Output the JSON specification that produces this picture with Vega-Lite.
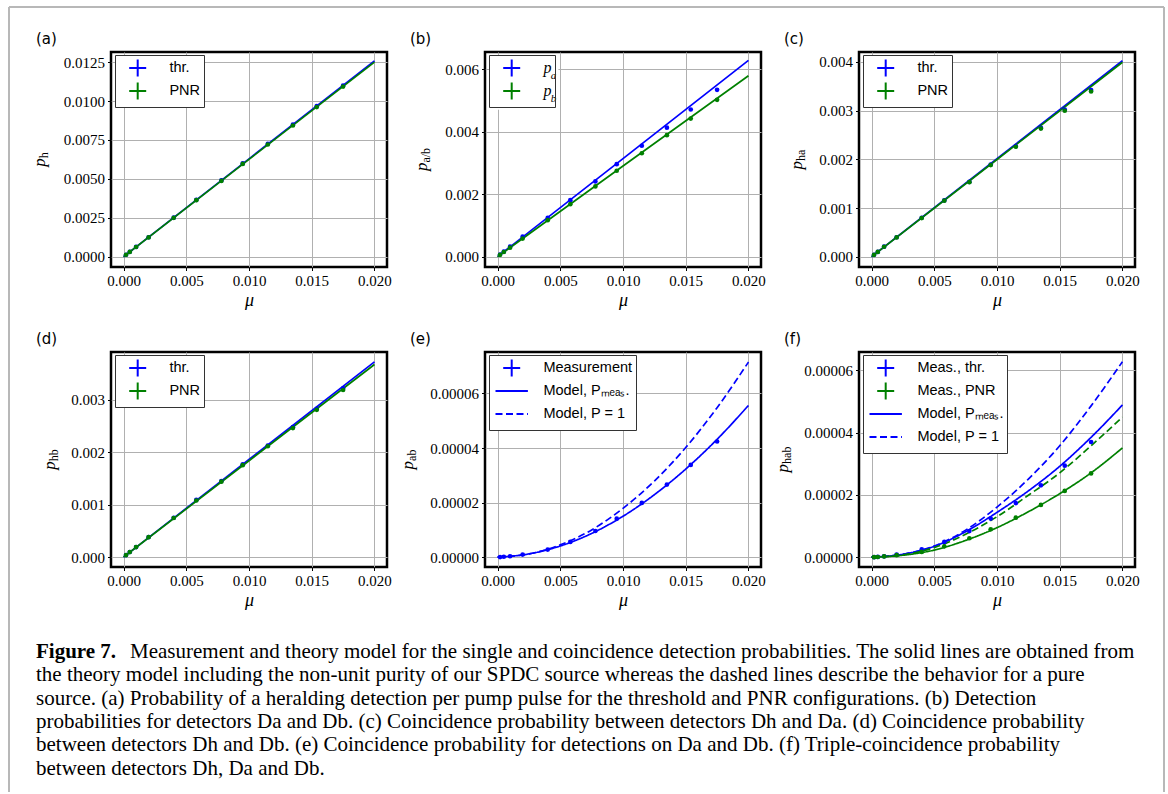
{
"$schema": "https://vega.github.io/schema/vega-lite/v6.json",
"background": "white",
"padding": {"left": 7, "top": 6, "right": 0, "bottom": 0},
"config": {
  "font": "Liberation Serif",
  "view": {"stroke": "black", "strokeWidth": 2.5},
  "axis": {"grid": true, "gridColor": "#b0b0b0", "gridWidth": 1, "domain": false, "ticks": true, "tickColor": "black", "tickSize": 3.5, "tickWidth": 1, "labelFont": "Liberation Serif", "labelFontSize": 15, "labelColor": "black", "labelPadding": 3, "labelFlush": false, "labelOverlap": false, "titleFont": "Liberation Serif", "titleFontStyle": "italic", "titleFontWeight": "normal", "titleFontSize": 18, "titleColor": "black", "titlePadding": 3},
  "legend": {"orient": "none", "legendX": 4, "legendY": 3, "padding": 3, "fillColor": "white", "strokeColor": "#333333", "cornerRadius": 0, "labelFont": "Liberation Sans", "labelFontSize": 14.5, "labelColor": "black", "labelOffset": 21.7, "symbolOffset": 9.7, "symbolSize": 324, "symbolStrokeWidth": 2, "rowPadding": -3.3, "labelLimit": 400, "symbolFillColor": "transparent"},
  "title": {"anchor": "start", "frame": "group", "dx": -75, "offset": 5, "font": "DejaVu Sans", "fontSize": 15, "fontWeight": "normal", "color": "black"}
},
"datasets": {
  "a": [
    {"k":"pt","det":"thr.","mu":0.0002,"p":0.000126},{"k":"pt","det":"thr.","mu":0.0005,"p":0.000314},{"k":"pt","det":"thr.","mu":0.001,"p":0.000628},{"k":"pt","det":"thr.","mu":0.002,"p":0.00125},{"k":"pt","det":"thr.","mu":0.004,"p":0.00251},{"k":"pt","det":"thr.","mu":0.0058,"p":0.00365},{"k":"pt","det":"thr.","mu":0.0078,"p":0.0049},{"k":"pt","det":"thr.","mu":0.0095,"p":0.00599},{"k":"pt","det":"thr.","mu":0.0115,"p":0.00725},{"k":"pt","det":"thr.","mu":0.0135,"p":0.00848},{"k":"pt","det":"thr.","mu":0.0154,"p":0.00967},{"k":"pt","det":"thr.","mu":0.0175,"p":0.01099},
    {"k":"pt","det":"PNR","mu":0.0002,"p":0.000125},{"k":"pt","det":"PNR","mu":0.0005,"p":0.00031},{"k":"pt","det":"PNR","mu":0.001,"p":0.000625},{"k":"pt","det":"PNR","mu":0.002,"p":0.00124},{"k":"pt","det":"PNR","mu":0.004,"p":0.0025},{"k":"pt","det":"PNR","mu":0.0058,"p":0.00363},{"k":"pt","det":"PNR","mu":0.0078,"p":0.00487},{"k":"pt","det":"PNR","mu":0.0095,"p":0.00596},{"k":"pt","det":"PNR","mu":0.0115,"p":0.00721},{"k":"pt","det":"PNR","mu":0.0135,"p":0.00843},{"k":"pt","det":"PNR","mu":0.0154,"p":0.00961},{"k":"pt","det":"PNR","mu":0.0175,"p":0.01093},
    {"k":"fit","det":"thr.","mu":0,"p":0},{"k":"fit","det":"thr.","mu":0.01,"p":0.00629},{"k":"fit","det":"thr.","mu":0.02,"p":0.01258},
    {"k":"fit","det":"PNR","mu":0,"p":0},{"k":"fit","det":"PNR","mu":0.01,"p":0.00625},{"k":"fit","det":"PNR","mu":0.02,"p":0.0125}
  ],
  "b": [
    {"k":"pt","det":"a","mu":0.0002,"p":0.00007},{"k":"pt","det":"a","mu":0.0005,"p":0.00016},{"k":"pt","det":"a","mu":0.001,"p":0.00032},{"k":"pt","det":"a","mu":0.002,"p":0.00064},{"k":"pt","det":"a","mu":0.004,"p":0.00124},{"k":"pt","det":"a","mu":0.0058,"p":0.00181},{"k":"pt","det":"a","mu":0.0078,"p":0.00241},{"k":"pt","det":"a","mu":0.0095,"p":0.00296},{"k":"pt","det":"a","mu":0.0115,"p":0.00355},{"k":"pt","det":"a","mu":0.0135,"p":0.00413},{"k":"pt","det":"a","mu":0.0154,"p":0.00471},{"k":"pt","det":"a","mu":0.0175,"p":0.00534},
    {"k":"pt","det":"b","mu":0.0002,"p":0.00006},{"k":"pt","det":"b","mu":0.0005,"p":0.00015},{"k":"pt","det":"b","mu":0.001,"p":0.00029},{"k":"pt","det":"b","mu":0.002,"p":0.00058},{"k":"pt","det":"b","mu":0.004,"p":0.00117},{"k":"pt","det":"b","mu":0.0058,"p":0.00168},{"k":"pt","det":"b","mu":0.0078,"p":0.00225},{"k":"pt","det":"b","mu":0.0095,"p":0.00275},{"k":"pt","det":"b","mu":0.0115,"p":0.00331},{"k":"pt","det":"b","mu":0.0135,"p":0.00389},{"k":"pt","det":"b","mu":0.0154,"p":0.00442},{"k":"pt","det":"b","mu":0.0175,"p":0.00502},
    {"k":"fit","det":"a","mu":0,"p":0},{"k":"fit","det":"a","mu":0.01,"p":0.00314},{"k":"fit","det":"a","mu":0.02,"p":0.00628},
    {"k":"fit","det":"b","mu":0,"p":0},{"k":"fit","det":"b","mu":0.01,"p":0.0029},{"k":"fit","det":"b","mu":0.02,"p":0.00579}
  ],
  "c": [
    {"k":"pt","det":"thr.","mu":0.0002,"p":0.00004},{"k":"pt","det":"thr.","mu":0.0005,"p":0.0001},{"k":"pt","det":"thr.","mu":0.001,"p":0.000206},{"k":"pt","det":"thr.","mu":0.002,"p":0.0004},{"k":"pt","det":"thr.","mu":0.004,"p":0.0008},{"k":"pt","det":"thr.","mu":0.0058,"p":0.001155},{"k":"pt","det":"thr.","mu":0.0078,"p":0.001535},{"k":"pt","det":"thr.","mu":0.0095,"p":0.00189},{"k":"pt","det":"thr.","mu":0.0115,"p":0.00227},{"k":"pt","det":"thr.","mu":0.0135,"p":0.002645},{"k":"pt","det":"thr.","mu":0.0154,"p":0.00302},{"k":"pt","det":"thr.","mu":0.0175,"p":0.00342},
    {"k":"pt","det":"PNR","mu":0.0002,"p":0.00004},{"k":"pt","det":"PNR","mu":0.0005,"p":0.0001},{"k":"pt","det":"PNR","mu":0.001,"p":0.000205},{"k":"pt","det":"PNR","mu":0.002,"p":0.000396},{"k":"pt","det":"PNR","mu":0.004,"p":0.000794},{"k":"pt","det":"PNR","mu":0.0058,"p":0.00115},{"k":"pt","det":"PNR","mu":0.0078,"p":0.00153},{"k":"pt","det":"PNR","mu":0.0095,"p":0.00188},{"k":"pt","det":"PNR","mu":0.0115,"p":0.002256},{"k":"pt","det":"PNR","mu":0.0135,"p":0.00263},{"k":"pt","det":"PNR","mu":0.0154,"p":0.002995},{"k":"pt","det":"PNR","mu":0.0175,"p":0.00339},
    {"k":"fit","det":"thr.","mu":0,"p":0},{"k":"fit","det":"thr.","mu":0.01,"p":0.00201},{"k":"fit","det":"thr.","mu":0.02,"p":0.00402},
    {"k":"fit","det":"PNR","mu":0,"p":0},{"k":"fit","det":"PNR","mu":0.01,"p":0.001995},{"k":"fit","det":"PNR","mu":0.02,"p":0.00399}
  ],
  "d": [
    {"k":"pt","det":"thr.","mu":0.0002,"p":0.000038},{"k":"pt","det":"thr.","mu":0.0005,"p":0.000096},{"k":"pt","det":"thr.","mu":0.001,"p":0.000191},{"k":"pt","det":"thr.","mu":0.002,"p":0.000382},{"k":"pt","det":"thr.","mu":0.004,"p":0.00075},{"k":"pt","det":"thr.","mu":0.0058,"p":0.00109},{"k":"pt","det":"thr.","mu":0.0078,"p":0.00145},{"k":"pt","det":"thr.","mu":0.0095,"p":0.00177},{"k":"pt","det":"thr.","mu":0.0115,"p":0.00213},{"k":"pt","det":"thr.","mu":0.0135,"p":0.00248},{"k":"pt","det":"thr.","mu":0.0154,"p":0.00283},{"k":"pt","det":"thr.","mu":0.0175,"p":0.00322},
    {"k":"pt","det":"PNR","mu":0.0002,"p":0.000037},{"k":"pt","det":"PNR","mu":0.0005,"p":0.000095},{"k":"pt","det":"PNR","mu":0.001,"p":0.00019},{"k":"pt","det":"PNR","mu":0.002,"p":0.000379},{"k":"pt","det":"PNR","mu":0.004,"p":0.000745},{"k":"pt","det":"PNR","mu":0.0058,"p":0.00108},{"k":"pt","det":"PNR","mu":0.0078,"p":0.00144},{"k":"pt","det":"PNR","mu":0.0095,"p":0.001755},{"k":"pt","det":"PNR","mu":0.0115,"p":0.002115},{"k":"pt","det":"PNR","mu":0.0135,"p":0.002463},{"k":"pt","det":"PNR","mu":0.0154,"p":0.00281},{"k":"pt","det":"PNR","mu":0.0175,"p":0.00319},
    {"k":"fit","det":"thr.","mu":0,"p":0},{"k":"fit","det":"thr.","mu":0.01,"p":0.0018625},{"k":"fit","det":"thr.","mu":0.02,"p":0.003725},
    {"k":"fit","det":"PNR","mu":0,"p":0},{"k":"fit","det":"PNR","mu":0.01,"p":0.001838},{"k":"fit","det":"PNR","mu":0.02,"p":0.003676}
  ],
  "e": [
    {"k":"pt","det":"thr.","leg":"Measurement","mu":0.0002,"p":5e-8},{"k":"pt","det":"thr.","leg":"Measurement","mu":0.0005,"p":1.5e-7},{"k":"pt","det":"thr.","leg":"Measurement","mu":0.001,"p":3.5e-7},{"k":"pt","det":"thr.","leg":"Measurement","mu":0.002,"p":9.7e-7},{"k":"pt","det":"thr.","leg":"Measurement","mu":0.004,"p":2.8e-6},{"k":"pt","det":"thr.","leg":"Measurement","mu":0.0058,"p":5.6e-6},{"k":"pt","det":"thr.","leg":"Measurement","mu":0.0078,"p":9.6e-6},{"k":"pt","det":"thr.","leg":"Measurement","mu":0.0095,"p":1.41e-5},{"k":"pt","det":"thr.","leg":"Measurement","mu":0.0115,"p":1.99e-5},{"k":"pt","det":"thr.","leg":"Measurement","mu":0.0135,"p":2.66e-5},{"k":"pt","det":"thr.","leg":"Measurement","mu":0.0154,"p":3.38e-5},{"k":"pt","det":"thr.","leg":"Measurement","mu":0.0175,"p":4.24e-5},
    {"k":"fit","det":"thr.","leg":"Model, Pₘₑₐₛ.","mu":0,"p":0},{"k":"fit","det":"thr.","leg":"Model, Pₘₑₐₛ.","mu":0.0025,"p":1.2e-6},{"k":"fit","det":"thr.","leg":"Model, Pₘₑₐₛ.","mu":0.005,"p":4.1e-6},{"k":"fit","det":"thr.","leg":"Model, Pₘₑₐₛ.","mu":0.0075,"p":8.7e-6},{"k":"fit","det":"thr.","leg":"Model, Pₘₑₐₛ.","mu":0.01,"p":1.5e-5},{"k":"fit","det":"thr.","leg":"Model, Pₘₑₐₛ.","mu":0.0125,"p":2.29e-5},{"k":"fit","det":"thr.","leg":"Model, Pₘₑₐₛ.","mu":0.015,"p":3.23e-5},{"k":"fit","det":"thr.","leg":"Model, Pₘₑₐₛ.","mu":0.0175,"p":4.32e-5},{"k":"fit","det":"thr.","leg":"Model, Pₘₑₐₛ.","mu":0.02,"p":5.56e-5},
    {"k":"fit","det":"thr.","leg":"Model, P = 1","mu":0,"p":0},{"k":"fit","det":"thr.","leg":"Model, P = 1","mu":0.0025,"p":1.2e-6},{"k":"fit","det":"thr.","leg":"Model, P = 1","mu":0.005,"p":4.5e-6},{"k":"fit","det":"thr.","leg":"Model, P = 1","mu":0.0075,"p":1.0e-5},{"k":"fit","det":"thr.","leg":"Model, P = 1","mu":0.01,"p":1.79e-5},{"k":"fit","det":"thr.","leg":"Model, P = 1","mu":0.0125,"p":2.79e-5},{"k":"fit","det":"thr.","leg":"Model, P = 1","mu":0.015,"p":4.02e-5},{"k":"fit","det":"thr.","leg":"Model, P = 1","mu":0.0175,"p":5.48e-5},{"k":"fit","det":"thr.","leg":"Model, P = 1","mu":0.02,"p":7.15e-5}
  ],
  "f": [
    {"k":"pt","det":"thr.","leg":"Meas., thr.","mu":0.0002,"p":2e-8},{"k":"pt","det":"thr.","leg":"Meas., thr.","mu":0.0005,"p":1e-7},{"k":"pt","det":"thr.","leg":"Meas., thr.","mu":0.001,"p":3e-7},{"k":"pt","det":"thr.","leg":"Meas., thr.","mu":0.002,"p":8.5e-7},{"k":"pt","det":"thr.","leg":"Meas., thr.","mu":0.004,"p":2.5e-6},{"k":"pt","det":"thr.","leg":"Meas., thr.","mu":0.0058,"p":4.9e-6},{"k":"pt","det":"thr.","leg":"Meas., thr.","mu":0.0078,"p":8.4e-6},{"k":"pt","det":"thr.","leg":"Meas., thr.","mu":0.0095,"p":1.24e-5},{"k":"pt","det":"thr.","leg":"Meas., thr.","mu":0.0115,"p":1.74e-5},{"k":"pt","det":"thr.","leg":"Meas., thr.","mu":0.0135,"p":2.31e-5},{"k":"pt","det":"thr.","leg":"Meas., thr.","mu":0.0154,"p":2.94e-5},{"k":"pt","det":"thr.","leg":"Meas., thr.","mu":0.0175,"p":3.7e-5},
    {"k":"pt","det":"PNR","leg":"Meas., PNR","mu":0.0002,"p":2e-8},{"k":"pt","det":"PNR","leg":"Meas., PNR","mu":0.0005,"p":8e-8},{"k":"pt","det":"PNR","leg":"Meas., PNR","mu":0.001,"p":2.5e-7},{"k":"pt","det":"PNR","leg":"Meas., PNR","mu":0.002,"p":6.5e-7},{"k":"pt","det":"PNR","leg":"Meas., PNR","mu":0.004,"p":1.7e-6},{"k":"pt","det":"PNR","leg":"Meas., PNR","mu":0.0058,"p":3.5e-6},{"k":"pt","det":"PNR","leg":"Meas., PNR","mu":0.0078,"p":6.1e-6},{"k":"pt","det":"PNR","leg":"Meas., PNR","mu":0.0095,"p":8.95e-6},{"k":"pt","det":"PNR","leg":"Meas., PNR","mu":0.0115,"p":1.27e-5},{"k":"pt","det":"PNR","leg":"Meas., PNR","mu":0.0135,"p":1.68e-5},{"k":"pt","det":"PNR","leg":"Meas., PNR","mu":0.0154,"p":2.13e-5},{"k":"pt","det":"PNR","leg":"Meas., PNR","mu":0.0175,"p":2.69e-5},
    {"k":"fit","det":"thr.","leg":"Model, Pₘₑₐₛ.","mu":0,"p":0},{"k":"fit","det":"thr.","leg":"Model, Pₘₑₐₛ.","mu":0.0025,"p":9.6e-7},{"k":"fit","det":"thr.","leg":"Model, Pₘₑₐₛ.","mu":0.005,"p":3.5e-6},{"k":"fit","det":"thr.","leg":"Model, Pₘₑₐₛ.","mu":0.0075,"p":8.2e-6},{"k":"fit","det":"thr.","leg":"Model, Pₘₑₐₛ.","mu":0.01,"p":1.44e-5},{"k":"fit","det":"thr.","leg":"Model, Pₘₑₐₛ.","mu":0.0125,"p":2.13e-5},{"k":"fit","det":"thr.","leg":"Model, Pₘₑₐₛ.","mu":0.015,"p":2.92e-5},{"k":"fit","det":"thr.","leg":"Model, Pₘₑₐₛ.","mu":0.0175,"p":3.85e-5},{"k":"fit","det":"thr.","leg":"Model, Pₘₑₐₛ.","mu":0.02,"p":4.89e-5},
    {"k":"fit","det":"thr.","leg":"Model, P = 1","mu":0,"p":0},{"k":"fit","det":"thr.","leg":"Model, P = 1","mu":0.0025,"p":9.6e-7},{"k":"fit","det":"thr.","leg":"Model, P = 1","mu":0.005,"p":3.6e-6},{"k":"fit","det":"thr.","leg":"Model, P = 1","mu":0.0075,"p":8.7e-6},{"k":"fit","det":"thr.","leg":"Model, P = 1","mu":0.01,"p":1.61e-5},{"k":"fit","det":"thr.","leg":"Model, P = 1","mu":0.0125,"p":2.51e-5},{"k":"fit","det":"thr.","leg":"Model, P = 1","mu":0.015,"p":3.58e-5},{"k":"fit","det":"thr.","leg":"Model, P = 1","mu":0.0175,"p":4.86e-5},{"k":"fit","det":"thr.","leg":"Model, P = 1","mu":0.02,"p":6.28e-5},
    {"k":"fit","det":"PNR","leg":"Model, Pₘₑₐₛ.","mu":0,"p":0},{"k":"fit","det":"PNR","leg":"Model, Pₘₑₐₛ.","mu":0.0025,"p":6.4e-7},{"k":"fit","det":"PNR","leg":"Model, Pₘₑₐₛ.","mu":0.005,"p":2.3e-6},{"k":"fit","det":"PNR","leg":"Model, Pₘₑₐₛ.","mu":0.0075,"p":5.4e-6},{"k":"fit","det":"PNR","leg":"Model, Pₘₑₐₛ.","mu":0.01,"p":9.5e-6},{"k":"fit","det":"PNR","leg":"Model, Pₘₑₐₛ.","mu":0.0125,"p":1.46e-5},{"k":"fit","det":"PNR","leg":"Model, Pₘₑₐₛ.","mu":0.015,"p":2.04e-5},{"k":"fit","det":"PNR","leg":"Model, Pₘₑₐₛ.","mu":0.0175,"p":2.71e-5},{"k":"fit","det":"PNR","leg":"Model, Pₘₑₐₛ.","mu":0.02,"p":3.51e-5},
    {"k":"fit","det":"PNR","leg":"Model, P = 1","mu":0,"p":0},{"k":"fit","det":"PNR","leg":"Model, P = 1","mu":0.0025,"p":7.5e-7},{"k":"fit","det":"PNR","leg":"Model, P = 1","mu":0.005,"p":3.1e-6},{"k":"fit","det":"PNR","leg":"Model, P = 1","mu":0.0075,"p":7.4e-6},{"k":"fit","det":"PNR","leg":"Model, P = 1","mu":0.01,"p":1.3e-5},{"k":"fit","det":"PNR","leg":"Model, P = 1","mu":0.0125,"p":1.99e-5},{"k":"fit","det":"PNR","leg":"Model, P = 1","mu":0.015,"p":2.71e-5},{"k":"fit","det":"PNR","leg":"Model, P = 1","mu":0.0175,"p":3.58e-5},{"k":"fit","det":"PNR","leg":"Model, P = 1","mu":0.02,"p":4.5e-5}
  ],
  "caption": [
    {"line":1,"text":"Measurement and theory model for the single and coincidence detection probabilities. The solid lines are obtained from"},
    {"line":2,"text":"the theory model including the non-unit purity of our SPDC source whereas the dashed lines describe the behavior for a pure"},
    {"line":3,"text":"source. (a) Probability of a heralding detection per pump pulse for the threshold and PNR configurations. (b) Detection"},
    {"line":4,"text":"probabilities for detectors Da and Db. (c) Coincidence probability between detectors Dh and Da. (d) Coincidence probability"},
    {"line":5,"text":"between detectors Dh and Db. (e) Coincidence probability for detections on Da and Db. (f) Triple-coincidence probability"},
    {"line":6,"text":"between detectors Dh, Da and Db."}
  ]
},
"columns": 3,
"spacing": {"row": 85, "column": 98},
"bounds": "flush",
"resolve": {
  "scale": {"color": "independent", "stroke": "independent", "shape": "independent", "strokeDash": "independent"},
  "legend": {"color": "independent", "stroke": "independent", "shape": "independent", "strokeDash": "independent"}
},
"concat": [
   {
    "width": 276, "height": 215,
    "title": {"text": "(a)"},
    "data": {"name": "a"},
    "encoding": {
      "x": {"field": "mu", "type": "quantitative", "scale": {"domain": [-0.001, 0.021], "nice": false, "zero": false}, "axis": {"values": [0, 0.005, 0.01, 0.015, 0.02], "format": ".3f", "title": "μ"}},
      "y": {"field": "p", "type": "quantitative", "scale": {"domain": [-0.00066, 0.01315], "nice": false, "zero": false}, "axis": {"values": [0, 0.0025, 0.005, 0.0075, 0.01, 0.0125], "format": ".4f", "title": null}}
    },
    "layer": [
      {"transform": [{"filter": "datum.k == 'fit'"}], "mark": {"type": "line", "strokeWidth": 1.7},
       "encoding": {"color": {"field": "det", "type": "nominal", "scale": {"domain": ["thr.", "PNR"], "range": ["#0000ff", "#008000"]}, "legend": {"title": null, "symbolType": "M-0.944,0H0.944M0,-0.944V0.944", "encode": {"symbols": {"update": {"stroke": {"signal": "datum.value === 'PNR' ? '#008000' : '#0000ff'"}, "fill": {"value": "transparent"}, "strokeWidth": {"value": 2}, "opacity": {"value": 1}}}}}}}},
      {"transform": [{"filter": "datum.k == 'pt'"}], "mark": {"type": "circle", "size": 22, "opacity": 1},
       "encoding": {"color": {"field": "det", "type": "nominal", "scale": {"domain": ["thr.", "PNR"], "range": ["#0000ff", "#008000"]}, "legend": {"title": null, "symbolType": "M-0.944,0H0.944M0,-0.944V0.944", "encode": {"symbols": {"update": {"stroke": {"signal": "datum.value === 'PNR' ? '#008000' : '#0000ff'"}, "fill": {"value": "transparent"}, "strokeWidth": {"value": 2}, "opacity": {"value": 1}}}}}}}},
      {"transform": [{"filter": "datum.k == 'fit' && datum.mu == 0 && datum.det == 'thr.'"}], "mark": {"type": "text", "text": "p", "color": "black", "font": "Liberation Serif", "fontStyle": "italic", "fontSize": 17, "angle": 270, "align": "left", "baseline": "alphabetic", "dx": -7.25},
       "encoding": {"x": {"datum": -0.006262, "type": "quantitative"}, "y": {"datum": 0.006245, "type": "quantitative"}}},
      {"transform": [{"filter": "datum.k == 'fit' && datum.mu == 0 && datum.det == 'thr.'"}], "mark": {"type": "text", "text": "h", "color": "black", "font": "Liberation Serif", "fontSize": 12, "angle": 270, "align": "left", "baseline": "alphabetic", "dx": 1.25, "dy": 3},
       "encoding": {"x": {"datum": -0.006262, "type": "quantitative"}, "y": {"datum": 0.006245, "type": "quantitative"}}}
    ]
   },
   {
    "width": 276, "height": 215,
    "title": {"text": "(b)"},
    "data": {"name": "b"},
    "encoding": {
      "x": {"field": "mu", "type": "quantitative", "scale": {"domain": [-0.001, 0.021], "nice": false, "zero": false}, "axis": {"values": [0, 0.005, 0.01, 0.015, 0.02], "format": ".3f", "title": "μ"}},
      "y": {"field": "p", "type": "quantitative", "scale": {"domain": [-0.00033, 0.00655], "nice": false, "zero": false}, "axis": {"values": [0, 0.002, 0.004, 0.006], "format": ".3f", "title": null}}
    },
    "layer": [
      {"transform": [{"filter": "datum.k == 'fit' && datum.mu == 0 && datum.det == 'a'"}], "mark": {"type": "rect", "color": "white", "opacity": 1},
       "encoding": {"x": {"datum": -0.000681, "type": "quantitative"}, "x2": {"datum": 0.00485}, "y": {"datum": 0.006454, "type": "quantitative"}, "y2": {"datum": 0.004704}}},
      {"transform": [{"filter": "datum.k == 'fit'"}], "mark": {"type": "line", "strokeWidth": 1.7},
       "encoding": {"color": {"field": "det", "type": "nominal", "scale": {"domain": ["a", "b"], "range": ["#0000ff", "#008000"]}, "legend": {"title": null, "fillColor": "transparent", "symbolType": "M-0.944,0H0.944M0,-0.944V0.944", "labelExpr": "'p\u2002'", "labelFont": "Liberation Serif", "labelFontStyle": "italic", "labelFontSize": 16, "encode": {"symbols": {"update": {"stroke": {"signal": "datum.value === 'b' ? '#008000' : '#0000ff'"}, "fill": {"value": "transparent"}, "strokeWidth": {"value": 2}, "opacity": {"value": 1}}}}}}}},
      {"transform": [{"filter": "datum.k == 'pt'"}], "mark": {"type": "circle", "size": 22, "opacity": 1},
       "encoding": {"color": {"field": "det", "type": "nominal", "scale": {"domain": ["a", "b"], "range": ["#0000ff", "#008000"]}, "legend": {"title": null, "fillColor": "transparent", "symbolType": "M-0.944,0H0.944M0,-0.944V0.944", "labelExpr": "'p\u2002'", "labelFont": "Liberation Serif", "labelFontStyle": "italic", "labelFontSize": 16, "encode": {"symbols": {"update": {"stroke": {"signal": "datum.value === 'b' ? '#008000' : '#0000ff'"}, "fill": {"value": "transparent"}, "strokeWidth": {"value": 2}, "opacity": {"value": 1}}}}}}}},
      {"transform": [{"filter": "datum.k == 'fit' && datum.mu == 0 && datum.det == 'a'"}], "mark": {"type": "text", "text": "a", "color": "black", "font": "Liberation Serif", "fontStyle": "italic", "fontSize": 11, "align": "left", "baseline": "alphabetic"},
       "encoding": {"x": {"datum": 0.00425, "type": "quantitative"}, "y": {"datum": 0.005686, "type": "quantitative"}}},
      {"transform": [{"filter": "datum.k == 'fit' && datum.mu == 0 && datum.det == 'a'"}], "mark": {"type": "text", "text": "b", "color": "black", "font": "Liberation Serif", "fontStyle": "italic", "fontSize": 11, "align": "left", "baseline": "alphabetic"},
       "encoding": {"x": {"datum": 0.00425, "type": "quantitative"}, "y": {"datum": 0.00496, "type": "quantitative"}}},
      {"transform": [{"filter": "datum.k == 'fit' && datum.mu == 0 && datum.det == 'a'"}], "mark": {"type": "text", "text": "p", "color": "black", "font": "Liberation Serif", "fontStyle": "italic", "fontSize": 17, "angle": 270, "align": "left", "baseline": "alphabetic", "dx": -11.6},
       "encoding": {"x": {"datum": -0.005624, "type": "quantitative"}, "y": {"datum": 0.00311, "type": "quantitative"}}},
      {"transform": [{"filter": "datum.k == 'fit' && datum.mu == 0 && datum.det == 'a'"}], "mark": {"type": "text", "text": "a/b", "color": "black", "font": "Liberation Serif", "fontSize": 12, "angle": 270, "align": "left", "baseline": "alphabetic", "dx": -3.1, "dy": 3},
       "encoding": {"x": {"datum": -0.005624, "type": "quantitative"}, "y": {"datum": 0.00311, "type": "quantitative"}}}
    ]
   },
   {
    "width": 276, "height": 215,
    "title": {"text": "(c)"},
    "data": {"name": "c"},
    "encoding": {
      "x": {"field": "mu", "type": "quantitative", "scale": {"domain": [-0.001, 0.021], "nice": false, "zero": false}, "axis": {"values": [0, 0.005, 0.01, 0.015, 0.02], "format": ".3f", "title": "μ"}},
      "y": {"field": "p", "type": "quantitative", "scale": {"domain": [-0.00021, 0.0042], "nice": false, "zero": false}, "axis": {"values": [0, 0.001, 0.002, 0.003, 0.004], "format": ".3f", "title": null}}
    },
    "layer": [
      {"transform": [{"filter": "datum.k == 'fit'"}], "mark": {"type": "line", "strokeWidth": 1.7},
       "encoding": {"color": {"field": "det", "type": "nominal", "scale": {"domain": ["thr.", "PNR"], "range": ["#0000ff", "#008000"]}, "legend": {"title": null, "symbolType": "M-0.944,0H0.944M0,-0.944V0.944", "encode": {"symbols": {"update": {"stroke": {"signal": "datum.value === 'PNR' ? '#008000' : '#0000ff'"}, "fill": {"value": "transparent"}, "strokeWidth": {"value": 2}, "opacity": {"value": 1}}}}}}}},
      {"transform": [{"filter": "datum.k == 'pt'"}], "mark": {"type": "circle", "size": 22, "opacity": 1},
       "encoding": {"color": {"field": "det", "type": "nominal", "scale": {"domain": ["thr.", "PNR"], "range": ["#0000ff", "#008000"]}, "legend": {"title": null, "symbolType": "M-0.944,0H0.944M0,-0.944V0.944", "encode": {"symbols": {"update": {"stroke": {"signal": "datum.value === 'PNR' ? '#008000' : '#0000ff'"}, "fill": {"value": "transparent"}, "strokeWidth": {"value": 2}, "opacity": {"value": 1}}}}}}}},
      {"transform": [{"filter": "datum.k == 'fit' && datum.mu == 0 && datum.det == 'thr.'"}], "mark": {"type": "text", "text": "p", "color": "black", "font": "Liberation Serif", "fontStyle": "italic", "fontSize": 17, "angle": 270, "align": "left", "baseline": "alphabetic", "dx": -9.9},
       "encoding": {"x": {"datum": -0.005544, "type": "quantitative"}, "y": {"datum": 0.001995, "type": "quantitative"}}},
      {"transform": [{"filter": "datum.k == 'fit' && datum.mu == 0 && datum.det == 'thr.'"}], "mark": {"type": "text", "text": "ha", "color": "black", "font": "Liberation Serif", "fontSize": 12, "angle": 270, "align": "left", "baseline": "alphabetic", "dx": -1.4, "dy": 3},
       "encoding": {"x": {"datum": -0.005544, "type": "quantitative"}, "y": {"datum": 0.001995, "type": "quantitative"}}}
    ]
   },
   {
    "width": 276, "height": 215,
    "title": {"text": "(d)"},
    "data": {"name": "d"},
    "encoding": {
      "x": {"field": "mu", "type": "quantitative", "scale": {"domain": [-0.001, 0.021], "nice": false, "zero": false}, "axis": {"values": [0, 0.005, 0.01, 0.015, 0.02], "format": ".3f", "title": "μ"}},
      "y": {"field": "p", "type": "quantitative", "scale": {"domain": [-0.00019, 0.003915], "nice": false, "zero": false}, "axis": {"values": [0, 0.001, 0.002, 0.003], "format": ".3f", "title": null}}
    },
    "layer": [
      {"transform": [{"filter": "datum.k == 'fit'"}], "mark": {"type": "line", "strokeWidth": 1.7},
       "encoding": {"color": {"field": "det", "type": "nominal", "scale": {"domain": ["thr.", "PNR"], "range": ["#0000ff", "#008000"]}, "legend": {"title": null, "symbolType": "M-0.944,0H0.944M0,-0.944V0.944", "encode": {"symbols": {"update": {"stroke": {"signal": "datum.value === 'PNR' ? '#008000' : '#0000ff'"}, "fill": {"value": "transparent"}, "strokeWidth": {"value": 2}, "opacity": {"value": 1}}}}}}}},
      {"transform": [{"filter": "datum.k == 'pt'"}], "mark": {"type": "circle", "size": 22, "opacity": 1},
       "encoding": {"color": {"field": "det", "type": "nominal", "scale": {"domain": ["thr.", "PNR"], "range": ["#0000ff", "#008000"]}, "legend": {"title": null, "symbolType": "M-0.944,0H0.944M0,-0.944V0.944", "encode": {"symbols": {"update": {"stroke": {"signal": "datum.value === 'PNR' ? '#008000' : '#0000ff'"}, "fill": {"value": "transparent"}, "strokeWidth": {"value": 2}, "opacity": {"value": 1}}}}}}}},
      {"transform": [{"filter": "datum.k == 'fit' && datum.mu == 0 && datum.det == 'thr.'"}], "mark": {"type": "text", "text": "p", "color": "black", "font": "Liberation Serif", "fontStyle": "italic", "fontSize": 17, "angle": 270, "align": "left", "baseline": "alphabetic", "dx": -10.25},
       "encoding": {"x": {"datum": -0.005464, "type": "quantitative"}, "y": {"datum": 0.0018625, "type": "quantitative"}}},
      {"transform": [{"filter": "datum.k == 'fit' && datum.mu == 0 && datum.det == 'thr.'"}], "mark": {"type": "text", "text": "hb", "color": "black", "font": "Liberation Serif", "fontSize": 12, "angle": 270, "align": "left", "baseline": "alphabetic", "dx": -1.75, "dy": 3},
       "encoding": {"x": {"datum": -0.005464, "type": "quantitative"}, "y": {"datum": 0.0018625, "type": "quantitative"}}}
    ]
   },
   {
    "width": 276, "height": 215,
    "title": {"text": "(e)"},
    "data": {"name": "e"},
    "encoding": {
      "x": {"field": "mu", "type": "quantitative", "scale": {"domain": [-0.001, 0.021], "nice": false, "zero": false}, "axis": {"values": [0, 0.005, 0.01, 0.015, 0.02], "format": ".3f", "title": "μ"}},
      "y": {"field": "p", "type": "quantitative", "scale": {"domain": [-0.0000036, 0.0000752], "nice": false, "zero": false}, "axis": {"values": [0, 0.00002, 0.00004, 0.00006], "format": ".5f", "title": null}}
    },
    "layer": [
      {"transform": [{"filter": "datum.k == 'fit'"}], "mark": {"type": "line", "strokeWidth": 1.7, "interpolate": "monotone"},
       "encoding": {"color": {"field": "det", "type": "nominal", "scale": {"domain": ["thr."], "range": ["#0000ff"]}, "legend": null},
                    "strokeDash": {"field": "leg", "type": "nominal", "scale": {"domain": ["Measurement", "Model, Pₘₑₐₛ.", "Model, P = 1"], "range": [[1, 0], [1, 0], [7, 3.5]]}, "legend": {"title": null, "rowPadding": -4.6, "encode": {"symbols": {"update": {"stroke": {"value": "#0000ff"}, "fill": {"value": "transparent"}, "strokeWidth": {"value": 2}, "opacity": {"value": 1}}}}}}}},
      {"transform": [{"filter": "datum.k == 'pt'"}], "mark": {"type": "point", "filled": false, "size": 4, "strokeWidth": 1, "opacity": 1},
       "encoding": {"color": {"field": "det", "type": "nominal", "scale": {"domain": ["thr."], "range": ["#0000ff"]}, "legend": null},
                    "shape": {"field": "leg", "type": "nominal", "scale": {"domain": ["Measurement", "Model, Pₘₑₐₛ.", "Model, P = 1"], "range": ["M-0.944,0H0.944M0,-0.944V0.944", "M-1.8,0H1.8M0,-0.944M0,0.944", "M-1.8,0H1.8M0,-0.944M0,0.944"]}, "legend": {"title": null, "rowPadding": -4.6, "encode": {"symbols": {"update": {"stroke": {"value": "#0000ff"}, "fill": {"value": "transparent"}, "strokeWidth": {"value": 2}, "opacity": {"value": 1}}}}}}}},
      {"transform": [{"filter": "datum.k == 'pt'"}], "mark": {"type": "circle", "size": 22, "opacity": 1},
       "encoding": {"color": {"field": "det", "type": "nominal", "scale": {"domain": ["thr."], "range": ["#0000ff"]}, "legend": null}}},
      {"transform": [{"filter": "datum.k == 'fit' && datum.mu == 0 && datum.leg == 'Model, P = 1'"}], "mark": {"type": "text", "text": "p", "color": "black", "font": "Liberation Serif", "fontStyle": "italic", "fontSize": 17, "angle": 270, "align": "left", "baseline": "alphabetic", "dx": -9.9},
       "encoding": {"x": {"datum": -0.006739, "type": "quantitative"}, "y": {"datum": 0.0000358, "type": "quantitative"}}},
      {"transform": [{"filter": "datum.k == 'fit' && datum.mu == 0 && datum.leg == 'Model, P = 1'"}], "mark": {"type": "text", "text": "ab", "color": "black", "font": "Liberation Serif", "fontSize": 12, "angle": 270, "align": "left", "baseline": "alphabetic", "dx": -1.4, "dy": 3},
       "encoding": {"x": {"datum": -0.006739, "type": "quantitative"}, "y": {"datum": 0.0000358, "type": "quantitative"}}}
    ]
   },
   {
    "width": 276, "height": 215,
    "title": {"text": "(f)"},
    "data": {"name": "f"},
    "encoding": {
      "x": {"field": "mu", "type": "quantitative", "scale": {"domain": [-0.001, 0.021], "nice": false, "zero": false}, "axis": {"values": [0, 0.005, 0.01, 0.015, 0.02], "format": ".3f", "title": "μ"}},
      "y": {"field": "p", "type": "quantitative", "scale": {"domain": [-0.00000314, 0.0000659], "nice": false, "zero": false}, "axis": {"values": [0, 0.00002, 0.00004, 0.00006], "format": ".5f", "title": null}}
    },
    "layer": [
      {"transform": [{"filter": "datum.k == 'fit'"}], "mark": {"type": "line", "strokeWidth": 1.7, "interpolate": "monotone"},
       "encoding": {"color": {"field": "det", "type": "nominal", "scale": {"domain": ["thr.", "PNR"], "range": ["#0000ff", "#008000"]}, "legend": null},
                    "strokeDash": {"field": "leg", "type": "nominal", "scale": {"domain": ["Meas., thr.", "Meas., PNR", "Model, Pₘₑₐₛ.", "Model, P = 1"], "range": [[1, 0], [1, 0], [1, 0], [7, 3.5]]}, "legend": {"title": null, "rowPadding": -4.6, "encode": {"symbols": {"update": {"stroke": {"signal": "datum.value === 'Meas., PNR' ? '#008000' : '#0000ff'"}, "fill": {"value": "transparent"}, "strokeWidth": {"value": 2}, "opacity": {"value": 1}}}}}}}},
      {"transform": [{"filter": "datum.k == 'pt'"}], "mark": {"type": "point", "filled": false, "size": 4, "strokeWidth": 1, "opacity": 1},
       "encoding": {"color": {"field": "det", "type": "nominal", "scale": {"domain": ["thr.", "PNR"], "range": ["#0000ff", "#008000"]}, "legend": null},
                    "shape": {"field": "leg", "type": "nominal", "scale": {"domain": ["Meas., thr.", "Meas., PNR", "Model, Pₘₑₐₛ.", "Model, P = 1"], "range": ["M-0.944,0H0.944M0,-0.944V0.944", "M-0.944,0H0.944M0,-0.944V0.944", "M-1.8,0H1.8M0,-0.944M0,0.944", "M-1.8,0H1.8M0,-0.944M0,0.944"]}, "legend": {"title": null, "rowPadding": -4.6, "encode": {"symbols": {"update": {"stroke": {"signal": "datum.value === 'Meas., PNR' ? '#008000' : '#0000ff'"}, "fill": {"value": "transparent"}, "strokeWidth": {"value": 2}, "opacity": {"value": 1}}}}}}}},
      {"transform": [{"filter": "datum.k == 'pt'"}], "mark": {"type": "circle", "size": 22, "opacity": 1},
       "encoding": {"color": {"field": "det", "type": "nominal", "scale": {"domain": ["thr.", "PNR"], "range": ["#0000ff", "#008000"]}, "legend": null}}},
      {"transform": [{"filter": "datum.k == 'fit' && datum.mu == 0 && datum.det == 'thr.' && datum.leg == 'Model, P = 1'"}], "mark": {"type": "text", "text": "p", "color": "black", "font": "Liberation Serif", "fontStyle": "italic", "fontSize": 17, "angle": 270, "align": "left", "baseline": "alphabetic", "dx": -12.9},
       "encoding": {"x": {"datum": -0.00666, "type": "quantitative"}, "y": {"datum": 0.00003138, "type": "quantitative"}}},
      {"transform": [{"filter": "datum.k == 'fit' && datum.mu == 0 && datum.det == 'thr.' && datum.leg == 'Model, P = 1'"}], "mark": {"type": "text", "text": "hab", "color": "black", "font": "Liberation Serif", "fontSize": 12, "angle": 270, "align": "left", "baseline": "alphabetic", "dx": -4.4, "dy": 3},
       "encoding": {"x": {"datum": -0.00666, "type": "quantitative"}, "y": {"datum": 0.00003138, "type": "quantitative"}}}
    ]
   },
   {
    "width": 276, "height": 116.5,
    "view": {"stroke": null},
    "data": {"name": "caption"},
    "encoding": {
      "x": {"datum": -0.27174, "type": "quantitative", "scale": {"domain": [0, 1]}, "axis": null},
      "y": {"field": "line", "type": "quantitative", "scale": {"domain": [1, 6], "reverse": true}, "axis": null}
    },
    "layer": [
      {"transform": [{"filter": "datum.line == 1"}], "mark": {"type": "rule", "color": "#b8b8b8", "strokeWidth": 2},
       "encoding": {"x": {"datum": -0.36957, "type": "quantitative"}, "y": {"datum": -26.682, "type": "quantitative"}, "y2": {"datum": 7.0086}}},
      {"transform": [{"filter": "datum.line == 1"}], "mark": {"type": "rule", "color": "#b8b8b8", "strokeWidth": 2},
       "encoding": {"x": {"datum": 3.81522, "type": "quantitative"}, "y": {"datum": -26.682, "type": "quantitative"}, "y2": {"datum": 7.0086}}},
      {"transform": [{"filter": "datum.line == 1"}], "mark": {"type": "rule", "color": "#b8b8b8", "strokeWidth": 2},
       "encoding": {"x": {"datum": -0.36957, "type": "quantitative"}, "x2": {"datum": 3.81522}, "y": {"datum": -26.682, "type": "quantitative"}}},
      {"transform": [{"filter": "datum.line > 1"}], "mark": {"type": "text", "align": "left", "baseline": "middle", "font": "Liberation Serif", "fontSize": 21, "color": "black"}, "encoding": {"text": {"field": "text", "type": "nominal"}}},
      {"transform": [{"filter": "datum.line == 1"}], "mark": {"type": "text", "align": "left", "baseline": "middle", "font": "Liberation Serif", "fontSize": 21, "color": "black", "dx": 94}, "encoding": {"text": {"field": "text", "type": "nominal"}}},
      {"transform": [{"filter": "datum.line == 1"}], "mark": {"type": "text", "text": "Figure 7.", "align": "left", "baseline": "middle", "font": "Liberation Serif", "fontSize": 21, "fontWeight": "bold", "color": "black"}}
    ]
   }
]
}
